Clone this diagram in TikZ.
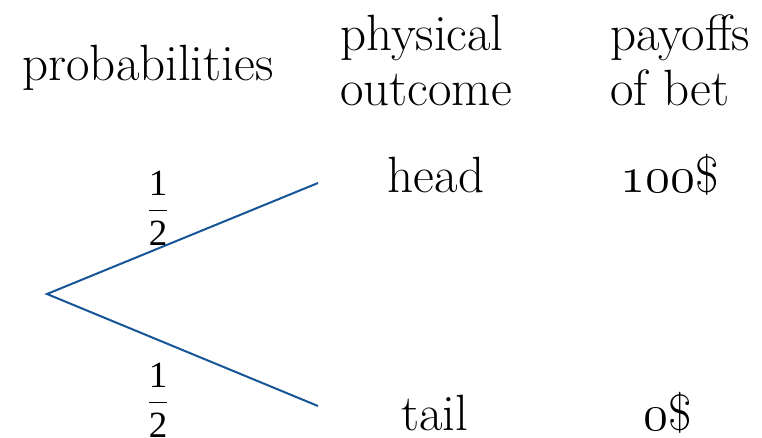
\RequirePackage{fix-cm}
\documentclass[tikz,border=0pt]{standalone}
\usepackage{amsmath}
\usepackage{fontspec}
\newfontfamily\timesnum{Liberation Serif}
\usepackage{tikz}
\usetikzlibrary{calc}
\definecolor{branchblue}{RGB}{22,86,152}
\newcommand{\osn}[1]{$\mathnormal{#1}$}
\newcommand{\half}{$\dfrac{\text{1}}{\text{2}}$}

\begin{document}
\begin{tikzpicture}[x=1pt,y=-1pt,
    lbl/.style={inner sep=0pt,font=\fontsize{51}{55}\selectfont},
    prob/.style={inner sep=0pt,font=\fontsize{37}{40}\selectfont\timesnum},
    branch/.style={draw=branchblue,line width=2pt}]
  \useasboundingbox (0,0) rectangle (762,437);

     % -------------------------
     % Column headers
     % -------------------------
      \node[lbl,anchor=base] (probs) at (148,80) {probabilities};
      \node[lbl,anchor=base west,align=left] (outcome) at (340,105) {physical\\outcome};
      \node[lbl,anchor=base west,align=left] (payoff) at (610,105) {payoffs\\of bet};

     % -------------------------
     % Tree
     % -------------------------
      \coordinate (root) at (47,294);
      \coordinate (up) at (318,183);
      \coordinate (down) at (318,406);

      \draw[branch] (up) -- (root) -- (down);

      % Probabilities on branches
      \node[prob] (pup) at (158,208) {\half};
      \node[prob] (pdown) at (158,400) {\half};

      % Outcomes
      \node[lbl,anchor=base] (head) at (436,192) {head};
      \node[lbl,anchor=base] (tail) at (435,430) {tail};

      % Payoffs
      \node[lbl,anchor=base] (win) at (670,192) {\osn{100}\$};
      \node[lbl,anchor=base] (lose) at (668,430) {\osn{0}\$};
\end{tikzpicture}
\end{document}
